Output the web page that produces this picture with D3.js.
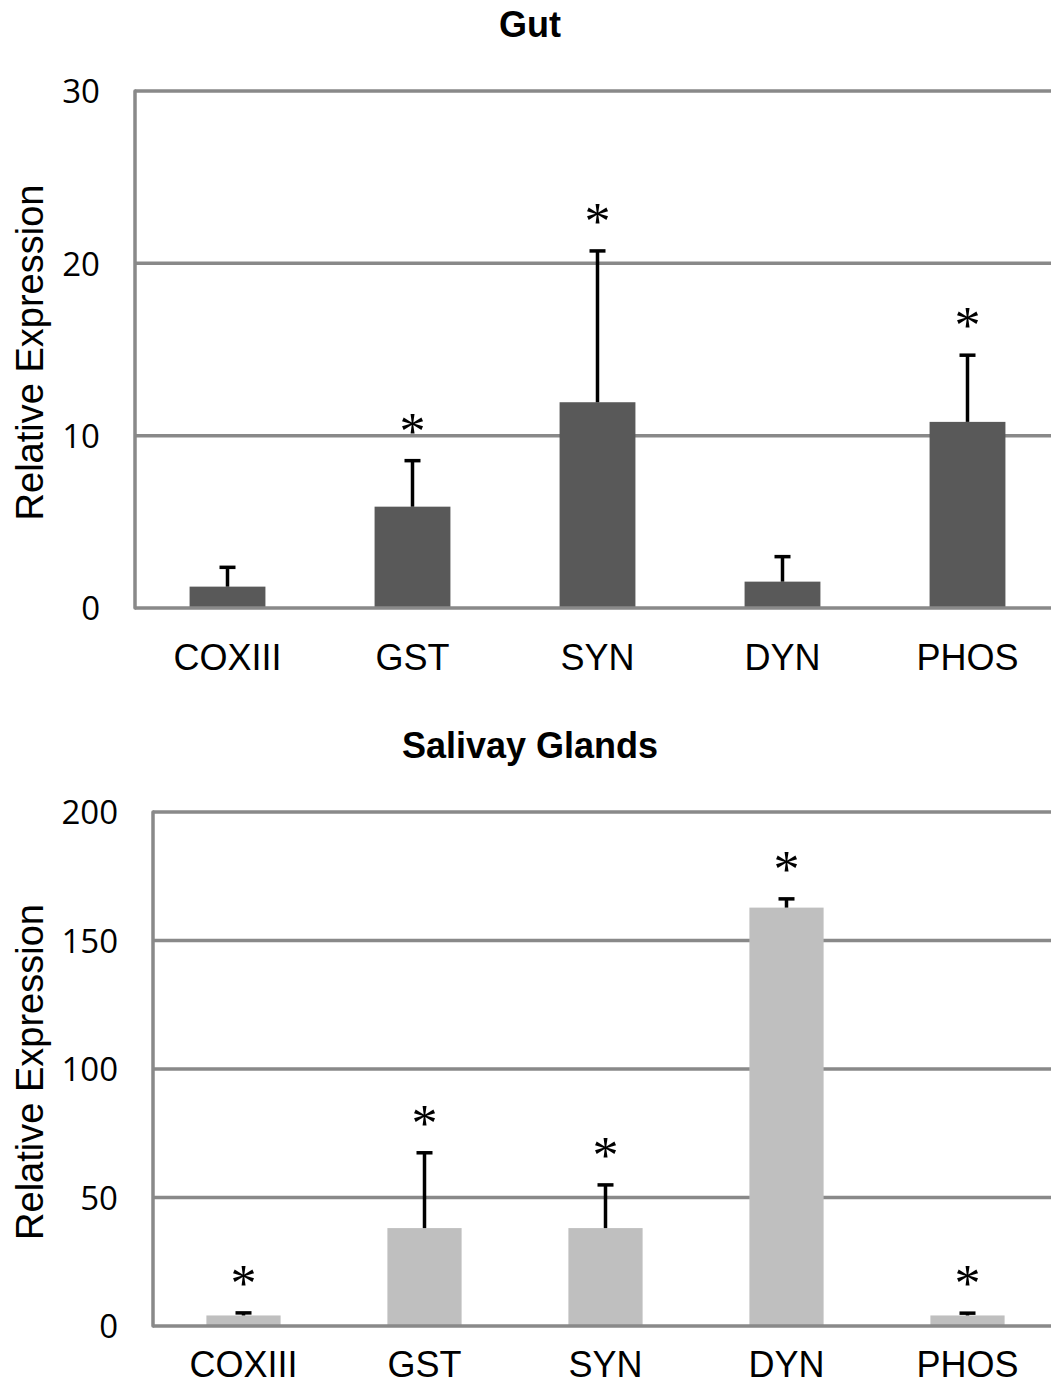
<!DOCTYPE html>
<html>
<head>
<meta charset="utf-8">
<script src="https://cdn.jsdelivr.net/npm/d3@7"></script>
<style>
  html, body { margin: 0; padding: 0; background: #fff; overflow: hidden; }
</style>
</head>
<body>
<div id="chart"></div>
<script>
// Relative expression of genes in gut and salivary glands
const genes = ["COXIII", "GST", "SYN", "DYN", "PHOS"];

const gutMean = [1.24, 5.88, 11.94, 1.53, 10.8];
const gutErr = [1.12, 2.67, 8.78, 1.45, 3.87];
const gutSig = [false, true, true, false, true];
const gutTicks = [0, 10, 20, 30];

const salMean = [4.1, 38.1, 38.1, 162.8, 4.1];
const salErr = [1.0, 29.3, 16.8, 3.4, 0.9];
const salSig = [true, true, true, true, true];
const salTicks = [0, 50, 100, 150, 200];

const W = 1051, H = 1389;
const gridColor = '#898989';

const svg = d3.select('#chart').append('svg')
  .attr('width', W)
  .attr('height', H)
  .attr('viewBox', [0, 0, W, H]);

function panel(opts) {
  const { title, titleY, left, top, bottom, rightEdge, max, ticks, mean, err, sig, fill } = opts;

  const x = d3.scaleBand().domain(genes).range([left, rightEdge]).paddingInner(0.59).paddingOuter(0.295);
  const y = d3.scaleLinear().domain([0, max]).range([bottom, top]);

  const g = svg.append('g');

  // title
  g.append('text')
    .attr('x', 530).attr('y', titleY)
    .attr('text-anchor', 'middle')
    .attr('font-family', 'Liberation Sans, Arial, sans-serif')
    .attr('font-weight', 'bold')
    .attr('font-size', 36)
    .attr('fill', '#000')
    .text(title);

  // gridlines (including top frame)
  g.append('g').selectAll('line')
    .data(ticks.filter(t => t > 0))
    .join('line')
      .attr('x1', left).attr('x2', W + 10)
      .attr('y1', d => y(d)).attr('y2', d => y(d))
      .attr('stroke', gridColor).attr('stroke-width', 3.5);

  // y axis via d3.axisLeft, styled
  const yAxis = g.append('g')
    .attr('transform', `translate(${left},0)`)
    .call(d3.axisLeft(y).tickValues(ticks).tickSize(0).tickPadding(35).tickFormat(d3.format('d')));
  yAxis.select('.domain').remove();
  yAxis.selectAll('text')
    .attr('font-family', 'Open Sans, sans-serif')
    .attr('font-size', 33)
    .attr('fill', '#000')
    .attr('dy', '0.36em');

  // bars
  g.append('g').selectAll('rect')
    .data(genes)
    .join('rect')
      .attr('x', d => x(d))
      .attr('width', x.bandwidth())
      .attr('y', (d, i) => y(mean[i]))
      .attr('height', (d, i) => y(0) - y(mean[i]))
      .attr('fill', fill);

  // error bars (upper only)
  const eb = g.append('g').attr('stroke', '#000').attr('stroke-width', 3.5);
  genes.forEach((d, i) => {
    const cx = x(d) + x.bandwidth() / 2;
    const yt = y(mean[i] + err[i]);
    eb.append('line').attr('x1', cx).attr('x2', cx).attr('y1', y(mean[i])).attr('y2', yt);
    eb.append('line').attr('x1', cx - 8).attr('x2', cx + 8).attr('y1', yt).attr('y2', yt);
  });

  // significance stars
  g.append('g').selectAll('text')
    .data(genes.filter((d, i) => sig[i]))
    .join('text')
      .attr('x', d => x(d) + x.bandwidth() / 2)
      .attr('y', d => { const i = genes.indexOf(d); return y(mean[i] + err[i]) - 36 + 24; })
      .attr('text-anchor', 'middle')
      .attr('font-family', 'Liberation Serif, serif')
      .attr('font-size', 52)
      .attr('fill', '#000')
      .text('*');

  // left axis line and baseline
  g.append('line')
    .attr('x1', left).attr('x2', left).attr('y1', top).attr('y2', bottom)
    .attr('stroke', gridColor).attr('stroke-width', 3.5).attr('stroke-linecap', 'round');
  g.append('line')
    .attr('x1', left).attr('x2', W + 10).attr('y1', bottom).attr('y2', bottom)
    .attr('stroke', gridColor).attr('stroke-width', 3.5);

  // x labels
  const xAxis = g.append('g')
    .attr('transform', `translate(0,${bottom})`)
    .call(d3.axisBottom(x).tickSize(0).tickPadding(0));
  xAxis.select('.domain').remove();
  xAxis.selectAll('text')
    .attr('font-family', 'Liberation Sans, Arial, sans-serif')
    .attr('font-size', 36)
    .attr('fill', '#000')
    .attr('dy', null)
    .attr('y', opts.labelDy);

  // y axis title
  g.append('text')
    .attr('transform', `translate(43,${(top + bottom) / 2 + 3}) rotate(-90)`)
    .attr('text-anchor', 'middle')
    .attr('font-family', 'Liberation Sans, Arial, sans-serif')
    .attr('font-size', 38)
    .attr('fill', '#000')
    .text('Relative Expression');
}

panel({
  title: 'Gut', titleY: 37,
  left: 135, top: 91, bottom: 608, rightEdge: 1060,
  max: 30, ticks: gutTicks,
  mean: gutMean, err: gutErr, sig: gutSig,
  fill: '#595959', labelDy: 62
});

panel({
  title: 'Salivay Glands', titleY: 758,
  left: 153, top: 812, bottom: 1326, rightEdge: 1058,
  max: 200, ticks: salTicks,
  mean: salMean, err: salErr, sig: salSig,
  fill: '#bfbfbf', labelDy: 51
});
</script>
</body>
</html>
